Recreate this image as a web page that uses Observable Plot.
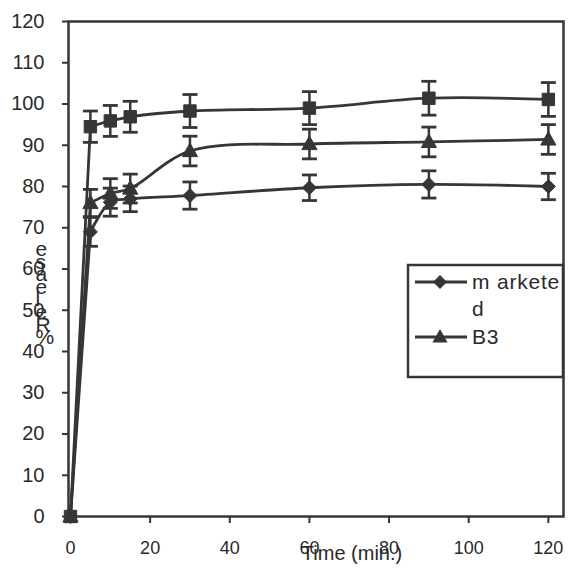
<!DOCTYPE html>
<html><head><meta charset="utf-8">
<script src="https://cdn.jsdelivr.net/npm/d3@7"></script>
<script src="https://cdn.jsdelivr.net/npm/@observablehq/plot@0.6"></script>
<style>
body{margin:0;background:#fff}
#chart{width:568px;height:574px;overflow:hidden}
</style>
</head><body><div id="chart"></div>
<script>
// ---- data ----
const times = [0, 5, 10, 15, 30, 60, 90, 120];
const marketed = [0, 69, 76.2, 77, 77.8, 79.7, 80.5, 80];
const marketedErr = [0, 3.5, 3.4, 3.1, 3.3, 3.1, 3.3, 3.2];
const b3 = [0, 76, 78.3, 79.5, 88.6, 90.3, 90.8, 91.4];
const b3Err = [0, 3.3, 3.6, 3.5, 3.6, 3.6, 3.6, 3.6];
const top3 = [0, 94.5, 95.9, 96.9, 98.3, 99, 101.4, 101.1];
const top3Err = [0, 3.8, 3.75, 3.75, 4, 4, 4.1, 4.1];
const seriesNames = ["marketed", "B3", "top"];
const legendLabels = [["m arkete", "d"], ["B3"]];
const yTicks = d3.range(0, 121, 10);
const xTicks = d3.range(0, 121, 20);
const yLabel = "e\ns\na\ne\nl\ne\nR\n%";
const xLabel = "Time (min.)";

const ink = "#363636";
const font = "Liberation Sans, Arial, sans-serif";
const rows = [];
[[marketed, marketedErr], [b3, b3Err], [top3, top3Err]].forEach(([v, e], k) =>
  times.forEach((t, i) => rows.push({series: seriesNames[k], t, v: v[i], e: e[i]})));
const withErr = rows.filter(d => d.e > 0);

const R = s => Math.sqrt(s / Math.PI);
const capSym = {draw(c, s) { const r = R(s); c.moveTo(-r, 0); c.lineTo(r, 0); }};
const squareSym = {draw(c, s) { const r = R(s); c.rect(-r, -r, 2 * r, 2 * r); }};
const diamondSym = {draw(c, s) { const r = R(s); c.moveTo(0, -r); c.lineTo(r, 0); c.lineTo(0, r); c.lineTo(-r, 0); c.closePath(); }};
const triSym = {draw(c, s) { const r = R(s); c.moveTo(0, -r); c.lineTo(r * 0.95, r * 0.7); c.lineTo(-r * 0.95, r * 0.7); c.closePath(); }};
const symFor = {marketed: diamondSym, B3: triSym, top: squareSym};
const rFor = {marketed: 7, B3: 8, top: 6.2};

const svg = Plot.plot({
  width: 568, height: 574,
  marginLeft: 68, marginRight: 5, marginTop: 21, marginBottom: 58,
  style: {fontFamily: font, color: ink, background: "#fff"},
  x: {domain: [-0.5, 123.8]},
  y: {domain: [0, 120]},
  marks: [
    Plot.axisY({ticks: yTicks, tickSize: 6, tickPadding: 18, fontSize: 20, label: null, stroke: ink, strokeWidth: 2, fill: "#2a2a2a"}),
    Plot.axisX({ticks: xTicks, tickSize: 7, tickPadding: 18, fontSize: 18, label: null, stroke: ink, strokeWidth: 2, fill: "#2a2a2a"}),
    Plot.ruleX(withErr, {x: "t", y1: d => d.v - d.e, y2: d => d.v + d.e, stroke: ink, strokeWidth: 2.5}),
    Plot.dot(withErr, {x: "t", y: d => d.v + d.e, symbol: capSym, r: 7.5, stroke: ink, strokeWidth: 2.8, fill: "none"}),
    Plot.dot(withErr, {x: "t", y: d => d.v - d.e, symbol: capSym, r: 7.5, stroke: ink, strokeWidth: 2.8, fill: "none"}),
    // initial rise drawn straight, the rest smoothed
    Plot.line(rows.filter(d => d.t <= 5), {x: "t", y: "v", z: "series", stroke: ink, strokeWidth: 2.8}),
    Plot.line(rows.filter(d => d.t >= 5), {x: "t", y: "v", z: "series", curve: "catmull-rom", stroke: ink, strokeWidth: 2.8}),
    ...seriesNames.map(n => Plot.dot(rows.filter(d => d.series === n), {x: "t", y: "v", symbol: symFor[n], r: rFor[n], fill: ink, stroke: ink, strokeWidth: 1})),
    Plot.frame({stroke: ink, strokeWidth: 2.5}),
    Plot.text([yLabel], {text: d => d, frameAnchor: "left", dx: -33, dy: 27, fontSize: 21, lineHeight: 0.6, fill: "#2a2a2a"}),
    Plot.text([xLabel], {text: d => d, frameAnchor: "bottom", dx: 36, dy: 43, fontSize: 20, fill: "#2a2a2a"})
  ]
});

// legend
const g = d3.select(svg).append("g").attr("text-anchor", "start");
g.append("rect").attr("x", 408).attr("y", 265).attr("width", 155).attr("height", 112)
  .attr("fill", "#fff").attr("stroke", ink).attr("stroke-width", 2.5);
const entries = [{y: 282, sym: d3.symbol().type(diamondSym).size(Math.PI * 49)},
                 {y: 337, sym: d3.symbol().type(triSym).size(Math.PI * 64)}];
entries.forEach((e, i) => {
  g.append("line").attr("x1", 415).attr("x2", 467).attr("y1", e.y).attr("y2", e.y)
    .attr("stroke", ink).attr("stroke-width", 2.8);
  g.append("path").attr("d", e.sym()).attr("transform", `translate(440,${e.y})`).attr("fill", ink);
  legendLabels[i].forEach((txt, j) => {
    g.append("text").attr("x", 472).attr("y", e.y + 7 + j * 27).text(txt)
      .attr("text-anchor", "start").attr("font-size", 21).attr("letter-spacing", "0.8px")
      .attr("fill", "#2a2a2a").attr("font-family", font);
  });
});

document.getElementById("chart").appendChild(svg);
</script>
</body></html>
